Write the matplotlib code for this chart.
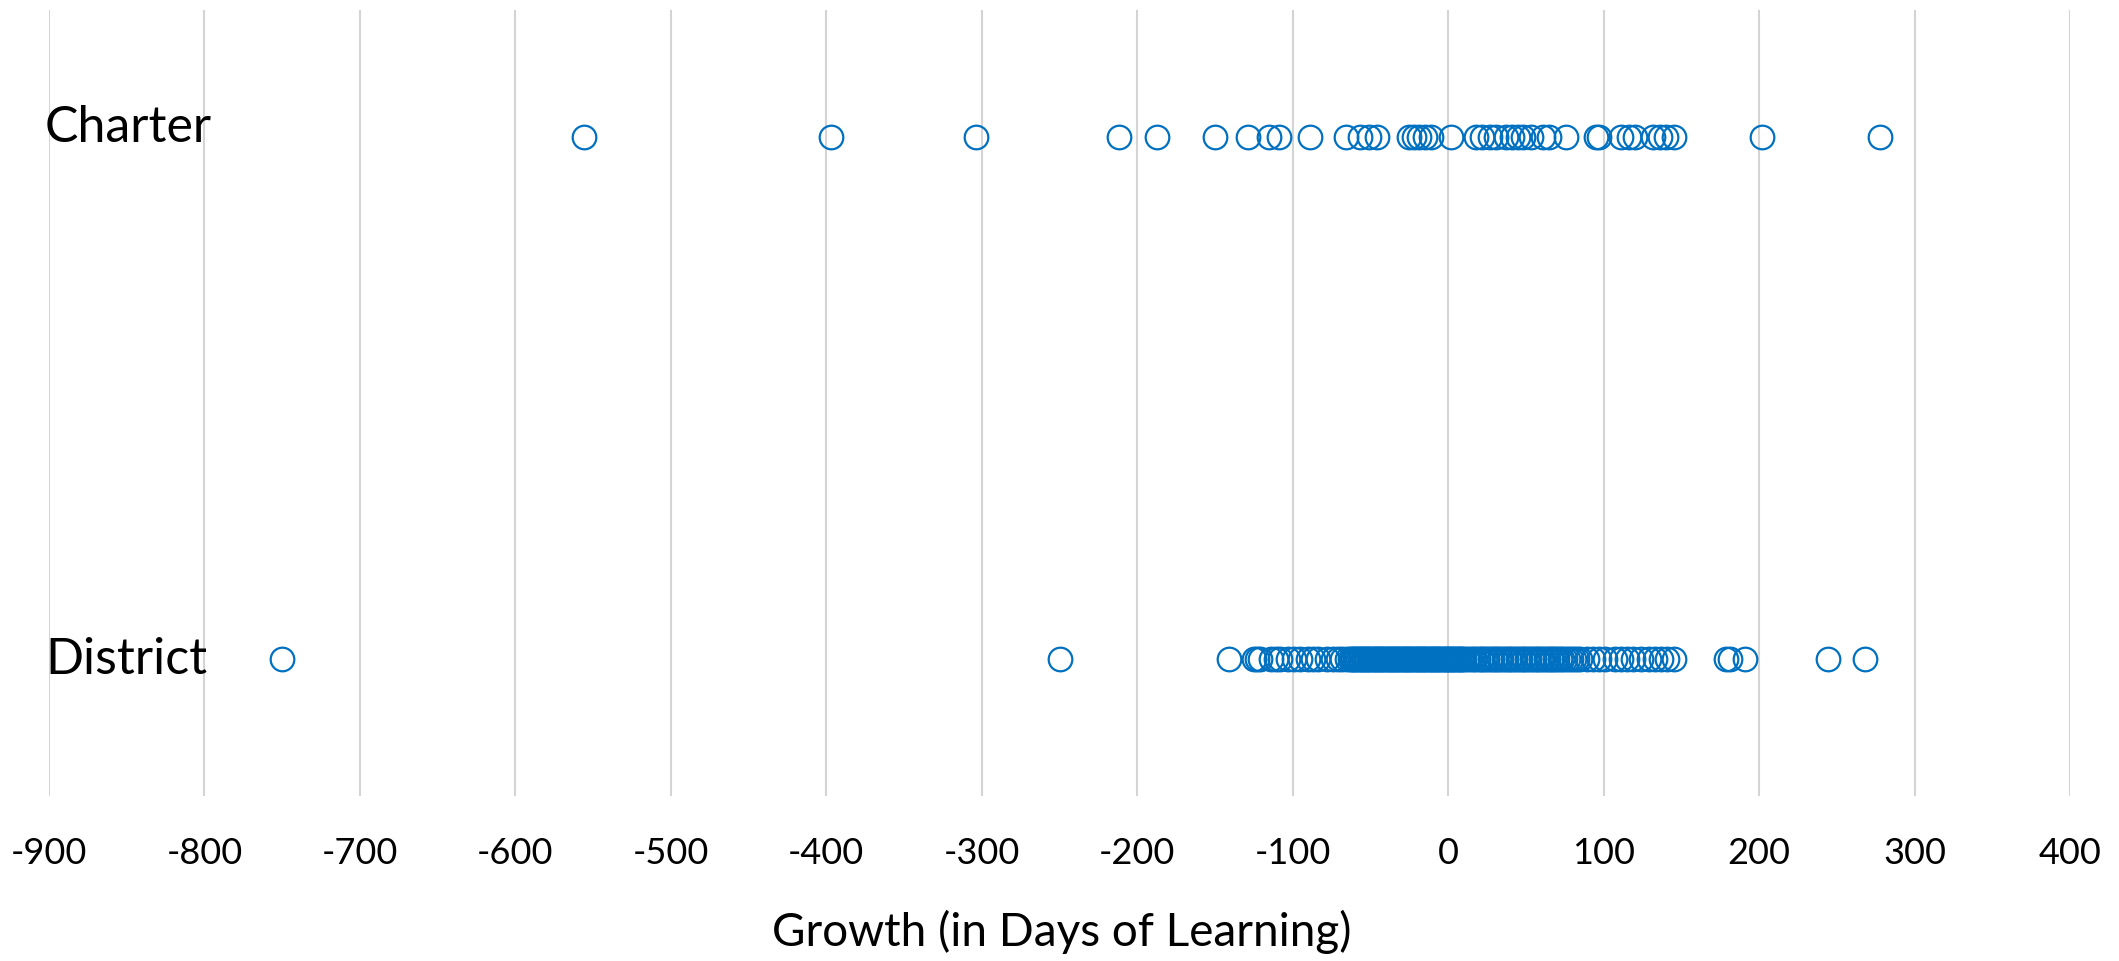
import matplotlib
matplotlib.use("Agg")
import matplotlib.pyplot as plt

# Growth (in days of learning) per school
charter = [-556, -397, -304, -212, -187, -150, -129, -115, -109, -89,
           -66, -57, -51, -46, -25, -22, -19, -15, -11, 2,
           18, 22, 27, 31, 37, 41, 45, 48, 53, 61,
           65, 76, 95, 97, 111, 116, 120, 132, 136, 140,
           145, 202, 278]

district = [-750, -250, -141, -125, -123, -121, -114, -111, -108, -103,
            -99, -95, -90, -87, -84, -78, -74, -71, -68, -65,
            -63, -61, -59, -57, -55, -53, -51, -49, -47, -45,
            -43, -41, -39, -37, -35, -33, -31, -29, -27, -25,
            -23, -21, -19, -17, -15, -13, -11, -9, -7, -5,
            -3, -1, 1, 3, 5, 7, 9, 12, 16, 19,
            22, 25, 28, 31, 34, 37, 40, 43, 46, 49,
            52, 55, 58, 61, 64, 67, 70, 73, 77, 81,
            85, 89, 93, 97, 101, 107, 111, 115, 119, 124,
            129, 133, 137, 141, 145, 179, 181, 191, 244, 268,
            -62, -60, -58, -56, -54, -52, -50, -48, -46, -44,
            -42, -40, -38, -36, -34, -32, -30, -28, -26, -24,
            -22, -20, -18, -16, -14, -12, -10, -8, -6, -4,
            -2, 0, 2, 4, 6, 8, 10, 14, 17, 21,
            24, 27, 30, 33, 36, 39, 42, 45, 48, 51,
            54, 57, 60, 63, 66, 69, 72, 75, 79, 83]

groups = ["District", "Charter"]
xticks = list(range(-900, 401, 100))

blue = "#0070c0"
grid_gray = "#d4d4d4"
plt.rcParams["font.family"] = ["Lato", "DejaVu Sans"]

fig = plt.figure(figsize=(21.19, 9.62), dpi=100)
ax = fig.add_axes([0.0231, 0.1715, 0.9538, 0.8171])

for i, vals in enumerate([district, charter]):
    ax.plot(vals, [i + 1] * len(vals), linestyle="none", marker="o",
            markersize=17, markerfacecolor="none", markeredgecolor=blue,
            markeredgewidth=1.6)

ax.set_xlim(-900, 400)
ax.set_ylim(0.738, 2.244)
ax.set_xticks(xticks)
ax.set_xticklabels([str(t) for t in xticks], fontsize=26)
ax.set_yticks([])
ax.tick_params(axis="x", length=0, pad=29)
ax.grid(axis="x", color=grid_gray, linewidth=1.5)
ax.set_axisbelow(True)
for s in ax.spines.values():
    s.set_visible(False)

# group labels sit inside the plot, at the left edge
ax.text(-903, 2.02, groups[1], fontsize=36, ha="left", va="center")
ax.text(-902, 1.0, groups[0], fontsize=36, ha="left", va="center")

fig.text(1062 / 2119, 1 - 932 / 962, "Growth (in Days of Learning)",
         fontsize=33, ha="center", va="center")

fig.savefig("out.png", dpi=100)
